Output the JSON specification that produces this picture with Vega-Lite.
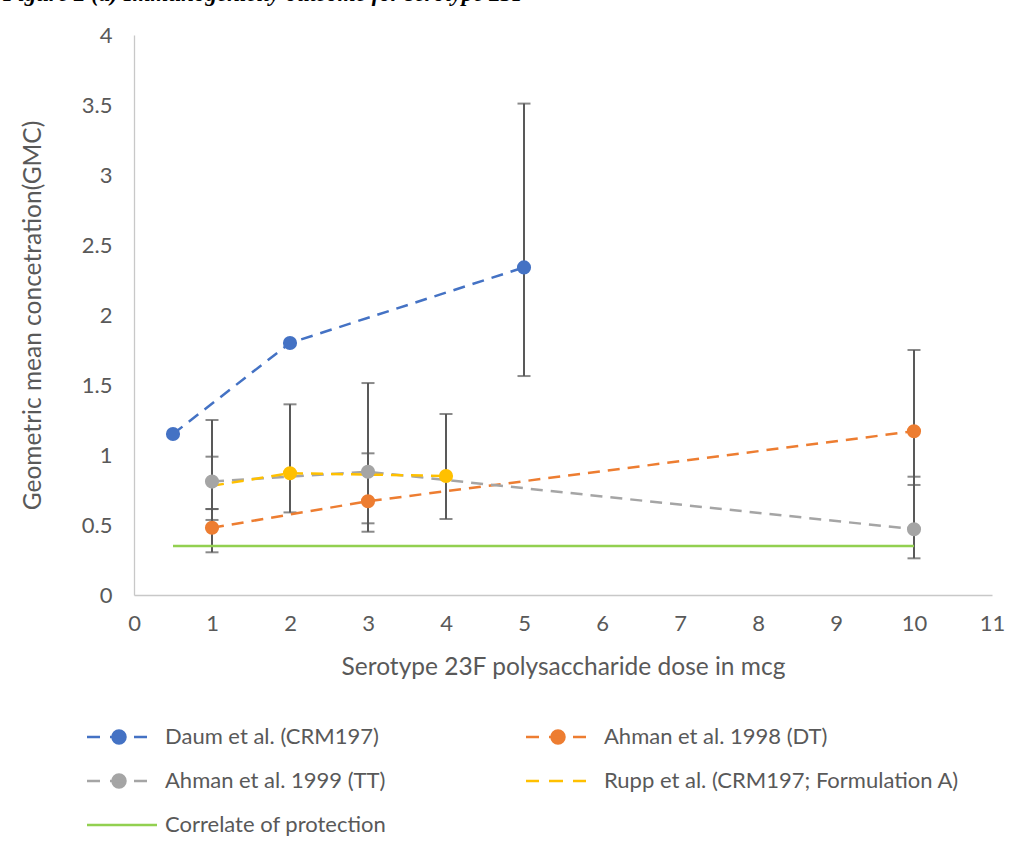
{
  "$schema": "https://vega.github.io/schema/vega-lite/v6.json",
  "autosize": "none",
  "width": 858,
  "height": 560,
  "padding": {"left": 134, "top": 35, "right": 34, "bottom": 261},
  "background": "white",
  "title": {
    "text": "Figure 2 (a) Immunogenicity outcome for serotype 23F",
    "anchor": "start",
    "frame": "group",
    "font": "Liberation Serif",
    "fontSize": 23,
    "fontStyle": "italic",
    "fontWeight": "bold",
    "color": "black",
    "dx": -131,
    "offset": 0,
    "dy": -18
  },
  "config": {
    "view": {"stroke": null},
    "font": "Lato",
    "axis": {
      "labelFont": "Lato",
      "titleFont": "Lato",
      "labelFontSize": 22,
      "labelColor": "#595959",
      "titleFontSize": 24.5,
      "titleFontWeight": "normal",
      "titleColor": "#595959",
      "ticks": false,
      "grid": false,
      "domainColor": "#C8C8C8",
      "domainWidth": 1.3,
      "labelFlush": false,
      "labelOverlap": false
    }
  },
  "datasets": {
    "points": [
      {"series": "Daum et al. (CRM197)", "dose": 0.5, "gmc": 1.15},
      {"series": "Daum et al. (CRM197)", "dose": 2, "gmc": 1.8},
      {"series": "Daum et al. (CRM197)", "dose": 5, "gmc": 2.34},
      {"series": "Ahman et al. 1998 (DT)", "dose": 1, "gmc": 0.48},
      {"series": "Ahman et al. 1998 (DT)", "dose": 3, "gmc": 0.67},
      {"series": "Ahman et al. 1998 (DT)", "dose": 10, "gmc": 1.17},
      {"series": "Ahman et al. 1999 (TT)", "dose": 1, "gmc": 0.81},
      {"series": "Ahman et al. 1999 (TT)", "dose": 3, "gmc": 0.88},
      {"series": "Ahman et al. 1999 (TT)", "dose": 10, "gmc": 0.47},
      {"series": "Rupp et al. (CRM197; Formulation A)", "dose": 1, "gmc": 0.78},
      {"series": "Rupp et al. (CRM197; Formulation A)", "dose": 2, "gmc": 0.87},
      {"series": "Rupp et al. (CRM197; Formulation A)", "dose": 4, "gmc": 0.85},
      {"series": "Correlate of protection", "dose": 0.5, "gmc": 0.35},
      {"series": "Correlate of protection", "dose": 10, "gmc": 0.35}
    ],
    "errors": [
      {"series": "Ahman et al. 1998 (DT)", "dose": 1, "low": 0.305, "high": 0.614},
      {"series": "Ahman et al. 1999 (TT)", "dose": 1, "low": 0.536, "high": 1.25},
      {"series": "Rupp et al. (CRM197; Formulation A)", "dose": 1, "low": 0.614, "high": 0.988},
      {"series": "Rupp et al. (CRM197; Formulation A)", "dose": 2, "low": 0.59, "high": 1.362},
      {"series": "Ahman et al. 1998 (DT)", "dose": 3, "low": 0.452, "high": 1.012},
      {"series": "Ahman et al. 1999 (TT)", "dose": 3, "low": 0.512, "high": 1.514},
      {"series": "Rupp et al. (CRM197; Formulation A)", "dose": 4, "low": 0.543, "high": 1.293},
      {"series": "Daum et al. (CRM197)", "dose": 5, "low": 1.564, "high": 3.51},
      {"series": "Ahman et al. 1998 (DT)", "dose": 10, "low": 0.786, "high": 1.75},
      {"series": "Ahman et al. 1999 (TT)", "dose": 10, "low": 0.262, "high": 0.845}
    ]
  },
  "encoding": {
    "x": {
      "field": "dose",
      "type": "quantitative",
      "scale": {"domain": [0, 11], "nice": false, "zero": false},
      "axis": {
        "values": [0, 1, 2, 3, 4, 5, 6, 7, 8, 9, 10, 11],
        "labelPadding": 18,
        "title": "Serotype 23F polysaccharide dose in mcg",
        "titlePadding": 21
      }
    }
  },
  "layer": [
    {
      "data": {"name": "errors"},
      "mark": {"type": "rule", "color": "#595959", "strokeWidth": 2},
      "encoding": {
        "y": {"field": "low", "type": "quantitative", "scale": {"domain": [0, 4], "nice": false},
          "axis": {
            "values": [0, 0.5, 1, 1.5, 2, 2.5, 3, 3.5, 4],
            "format": "~g",
            "labelPadding": 22,
            "title": "Geometric mean concetration(GMC)",
            "titlePadding": 36
          }},
        "y2": {"field": "high"}
      }
    },
    {
      "data": {"name": "errors"},
      "mark": {"type": "tick", "orient": "horizontal", "color": "#595959", "size": 13, "thickness": 2},
      "encoding": {"y": {"field": "low", "type": "quantitative"}}
    },
    {
      "data": {"name": "errors"},
      "mark": {"type": "tick", "orient": "horizontal", "color": "#595959", "size": 13, "thickness": 2},
      "encoding": {"y": {"field": "high", "type": "quantitative"}}
    },
    {
      "data": {"name": "points"},
      "transform": [{"filter": "datum.series === 'Correlate of protection'"}],
      "mark": {"type": "line", "strokeWidth": 2.5, "color": "#92D050"},
      "encoding": {
        "y": {"field": "gmc", "type": "quantitative"}
      }
    },
    {
      "data": {"name": "points"},
      "transform": [{"filter": "datum.series !== 'Correlate of protection'"}],
      "mark": {"type": "line", "strokeWidth": 2.5, "strokeDash": [12, 8]},
      "encoding": {
        "y": {"field": "gmc", "type": "quantitative"},
        "stroke": {"field": "series", "type": "nominal", "legend": null,
          "scale": {"domain": ["Daum et al. (CRM197)", "Ahman et al. 1998 (DT)", "Ahman et al. 1999 (TT)", "Rupp et al. (CRM197; Formulation A)"],
            "range": ["#4472C4", "#ED7D31", "#A5A5A5", "#FFC000"]}}
      }
    },
    {
      "data": {"name": "points"},
      "transform": [{"filter": "datum.series !== 'Correlate of protection' && !(datum.series === 'Rupp et al. (CRM197; Formulation A)' && datum.dose === 1)"}],
      "mark": {"type": "point", "filled": true, "size": 200, "opacity": 1, "shape": "circle", "strokeWidth": 0},
      "encoding": {
        "y": {"field": "gmc", "type": "quantitative"},
        "fill": {"field": "series", "type": "nominal", "legend": null,
          "scale": {"domain": ["Daum et al. (CRM197)", "Ahman et al. 1998 (DT)", "Ahman et al. 1999 (TT)", "Rupp et al. (CRM197; Formulation A)"],
            "range": ["#4472C4", "#ED7D31", "#A5A5A5", "#FFC000"]}}
      }
    },
    {
      "data": {"name": "points"},
      "mark": {"type": "point", "filled": true, "opacity": 0},
      "encoding": {
        "y": {"field": "gmc", "type": "quantitative"},
        "color": {"field": "series", "type": "nominal",
          "scale": {"domain": ["Daum et al. (CRM197)", "Ahman et al. 1999 (TT)", "Correlate of protection", "Ahman et al. 1998 (DT)", "Rupp et al. (CRM197; Formulation A)"],
            "range": ["#4472C4", "#A5A5A5", "#92D050", "#ED7D31", "#FFC000"]},
          "legend": {
            "orient": "none",
            "legendX": -28.5,
            "legendY": 690.5,
            "columns": 2,
            "columnPadding": 134,
            "rowPadding": 21,
            "padding": 0,
            "title": null,
            "symbolSize": 400,
            "symbolStrokeWidth": 2.5,
            "symbolOpacity": 1,
            "labelOffset": 36.5,
            "labelFont": "Lato",
            "labelFontSize": 22,
            "labelColor": "#595959",
            "labelLimit": 600,
            "encode": {"symbols": {"update": {
              "fill": {"scale": "color", "field": "value"},
              "stroke": {"scale": "color", "field": "value"},
              "opacity": {"value": 1}
            }}}
          }},
        "shape": {"field": "series", "type": "nominal",
          "scale": {"domain": ["Daum et al. (CRM197)", "Ahman et al. 1999 (TT)", "Correlate of protection", "Ahman et al. 1998 (DT)", "Rupp et al. (CRM197; Formulation A)"],
            "range": [
              "M-3,0H-1.7M-0.7,0H0.7M1.7,0H3M-0.45,0A0.65,0.65 0 1,0 0.85,0A0.65,0.65 0 1,0 -0.45,0Z",
              "M-3,0H-1.7M-0.7,0H0.7M1.7,0H3M-0.45,0A0.65,0.65 0 1,0 0.85,0A0.65,0.65 0 1,0 -0.45,0Z",
              "M-3,0H4",
              "M-3,0H-1.7M-0.7,0H0.7M1.7,0H3M-0.45,0A0.65,0.65 0 1,0 0.85,0A0.65,0.65 0 1,0 -0.45,0Z",
              "M-3,0H-1.7M-0.7,0H0.7M1.7,0H3"
            ]}}
      }
    }
  ]
}
